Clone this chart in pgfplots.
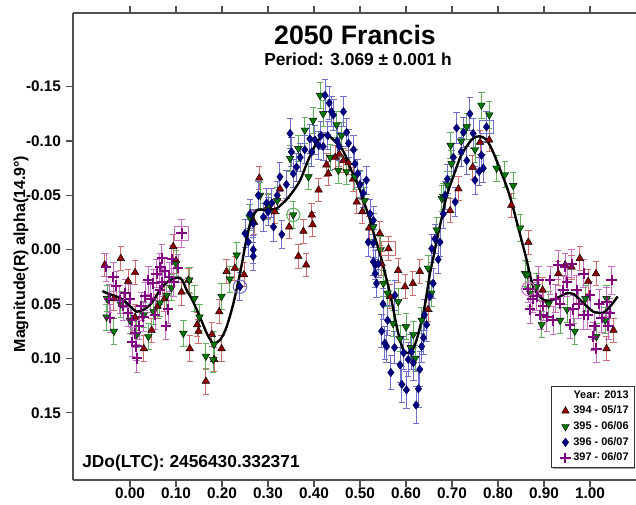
\documentclass[border=0pt]{standalone}
\usepackage{fontspec}
\setmainfont{Liberation Sans}
\usepackage{pgfplots}
\usepackage{pgfplotstable}
\pgfplotsset{compat=1.18}
\usetikzlibrary{shadows}
\definecolor{cred}{RGB}{140,0,0}
\definecolor{credbar}{RGB}{205,110,110}
\definecolor{cgreen}{RGB}{0,120,0}
\definecolor{cgreenbar}{RGB}{95,175,95}
\definecolor{cblue}{RGB}{0,0,130}
\definecolor{cbluebar}{RGB}{110,110,205}
\definecolor{cpurple}{RGB}{128,0,128}
\definecolor{cpurplebar}{RGB}{195,110,195}
\definecolor{axgray}{RGB}{80,80,80}

\pgfplotstableread{
x y e
-0.055 0.014 0.011
-0.035 0.045 0.011
-0.020 0.008 0.011
-0.004 0.029 0.011
0.011 0.021 0.011
0.011 0.062 0.012
0.030 0.091 0.012
0.047 0.074 0.011
0.060 0.052 0.011
0.075 0.045 0.012
0.094 -0.003 0.011
0.100 0.010 0.012
0.112 0.039 0.012
0.127 0.028 0.011
0.130 0.091 0.012
0.146 0.069 0.011
0.149 0.075 0.011
0.165 0.121 0.012
0.178 0.078 0.011
0.183 0.101 0.011
0.194 0.057 0.011
0.199 0.091 0.012
0.210 0.020 0.011
0.228 0.017 0.011
0.248 0.023 0.011
0.270 -0.025 0.011
0.281 -0.066 0.011
0.300 -0.040 0.011
0.315 -0.035 0.011
0.326 -0.056 0.011
0.346 -0.021 0.011
0.366 0.006 0.011
0.377 -0.017 0.011
0.383 0.014 0.011
0.395 -0.032 0.011
0.397 -0.023 0.011
0.410 -0.055 0.011
0.427 -0.078 0.011
0.431 -0.070 0.011
0.446 -0.085 0.011
0.455 -0.088 0.011
0.464 -0.082 0.011
0.475 -0.080 0.011
0.485 -0.065 0.011
0.493 -0.044 0.011
0.505 -0.035 0.011
0.520 -0.020 0.011
0.543 -0.015 0.011
0.547 0.013 0.011
0.562 -0.001 0.011
0.565 0.043 0.011
0.583 0.019 0.011
0.598 0.034 0.011
0.615 0.031 0.011
0.630 0.020 0.011
0.648 0.055 0.011
0.696 -0.036 0.011
0.714 -0.056 0.011
0.745 -0.076 0.011
0.761 -0.099 0.011
0.781 -0.101 0.011
0.829 -0.041 0.011
0.866 -0.007 0.011
0.897 0.037 0.011
0.931 0.022 0.011
0.946 0.014 0.011
0.960 0.016 0.011
0.978 0.008 0.011
0.996 0.029 0.011
1.013 0.022 0.011
1.036 0.091 0.011
1.051 0.074 0.011
}\tred

\pgfplotstableread{
x y e
-0.051 0.062 0.012
-0.050 0.045 0.012
-0.035 0.075 0.012
-0.020 0.050 0.012
0.000 0.065 0.012
0.015 0.078 0.012
0.030 0.060 0.012
0.040 0.080 0.012
0.051 0.057 0.012
0.065 0.049 0.012
0.080 0.042 0.012
0.090 0.035 0.012
0.100 0.013 0.012
0.116 0.077 0.012
0.129 0.028 0.012
0.140 0.045 0.012
0.151 0.062 0.012
0.165 0.098 0.012
0.181 0.101 0.012
0.183 0.087 0.012
0.199 0.043 0.012
0.217 0.027 0.012
0.232 0.005 0.012
0.260 -0.030 0.012
0.283 -0.050 0.012
0.300 -0.040 0.012
0.320 -0.045 0.012
0.348 -0.084 0.012
0.355 -0.032 0.012
0.366 -0.093 0.012
0.380 -0.110 0.012
0.388 -0.067 0.012
0.398 -0.119 0.012
0.413 -0.142 0.012
0.420 -0.125 0.012
0.435 -0.085 0.012
0.449 -0.115 0.012
0.453 -0.073 0.012
0.460 -0.105 0.012
0.471 -0.072 0.012
0.489 -0.067 0.012
0.500 -0.060 0.012
0.510 -0.045 0.012
0.529 -0.021 0.012
0.545 0.000 0.012
0.551 0.031 0.012
0.560 0.040 0.012
0.572 0.068 0.012
0.583 0.048 0.012
0.587 0.082 0.012
0.600 0.071 0.012
0.610 0.090 0.012
0.616 0.078 0.012
0.620 0.100 0.012
0.634 0.065 0.012
0.648 0.017 0.012
0.655 0.040 0.012
0.667 -0.018 0.012
0.678 -0.047 0.012
0.681 -0.049 0.012
0.690 -0.060 0.012
0.697 -0.096 0.012
0.699 -0.079 0.012
0.720 -0.100 0.012
0.732 -0.113 0.012
0.750 -0.092 0.012
0.764 -0.133 0.012
0.781 -0.124 0.012
0.797 -0.075 0.012
0.815 -0.069 0.012
0.833 -0.059 0.012
0.848 -0.020 0.012
0.859 0.022 0.012
0.864 0.023 0.012
0.870 0.040 0.012
0.884 0.034 0.012
0.895 0.069 0.012
0.910 0.050 0.012
0.935 0.065 0.012
0.950 0.055 0.012
0.967 0.075 0.012
0.990 0.045 0.012
1.014 0.080 0.012
1.033 0.065 0.012
1.036 0.045 0.012
}\tgreen

\pgfplotstableread{
x y e
0.239 0.034 0.013
0.250 -0.015 0.013
0.257 -0.007 0.013
0.261 -0.033 0.013
0.268 -0.024 0.013
0.268 0.000 0.013
0.268 0.006 0.013
0.279 -0.050 0.013
0.290 -0.030 0.013
0.297 -0.043 0.013
0.300 -0.035 0.013
0.308 -0.043 0.013
0.312 -0.021 0.013
0.320 -0.050 0.013
0.326 -0.067 0.013
0.330 -0.014 0.013
0.340 -0.060 0.013
0.348 -0.107 0.014
0.351 -0.090 0.013
0.355 -0.070 0.013
0.362 -0.076 0.013
0.370 -0.085 0.013
0.380 -0.092 0.013
0.391 -0.102 0.013
0.395 -0.090 0.013
0.402 -0.101 0.013
0.410 -0.096 0.013
0.415 -0.105 0.013
0.420 -0.095 0.013
0.424 -0.142 0.015
0.430 -0.105 0.013
0.433 -0.135 0.015
0.438 -0.127 0.014
0.442 -0.124 0.014
0.450 -0.100 0.013
0.455 -0.095 0.013
0.464 -0.127 0.014
0.471 -0.108 0.013
0.475 -0.098 0.013
0.486 -0.092 0.013
0.489 -0.079 0.013
0.495 -0.070 0.013
0.500 -0.060 0.013
0.507 -0.052 0.013
0.514 -0.064 0.013
0.518 -0.007 0.013
0.522 -0.033 0.013
0.529 0.011 0.013
0.529 -0.027 0.013
0.529 -0.006 0.013
0.533 0.014 0.013
0.533 0.022 0.013
0.536 0.031 0.013
0.540 0.013 0.013
0.547 0.075 0.015
0.550 0.050 0.014
0.554 0.086 0.015
0.558 0.089 0.015
0.560 0.065 0.014
0.567 0.113 0.016
0.575 0.090 0.015
0.576 0.042 0.014
0.587 0.106 0.016
0.591 0.124 0.017
0.595 0.095 0.015
0.601 0.129 0.017
0.605 0.101 0.016
0.612 0.094 0.016
0.616 0.104 0.016
0.622 0.143 0.017
0.627 0.128 0.017
0.630 0.110 0.016
0.634 0.089 0.015
0.638 0.081 0.015
0.640 0.060 0.014
0.645 0.069 0.015
0.652 0.043 0.014
0.656 -0.001 0.013
0.659 0.031 0.014
0.663 -0.010 0.013
0.670 0.009 0.013
0.674 -0.007 0.013
0.681 -0.033 0.013
0.685 -0.050 0.013
0.690 -0.065 0.013
0.703 -0.085 0.013
0.707 -0.044 0.013
0.710 -0.112 0.014
0.720 -0.090 0.013
0.725 -0.108 0.014
0.732 -0.082 0.013
0.739 -0.125 0.015
0.746 -0.107 0.014
0.750 -0.064 0.013
0.759 -0.072 0.013
0.764 -0.087 0.013
0.768 -0.075 0.013
0.775 -0.113 0.014
}\tblue

\pgfplotstableread{
x y e
-0.052 0.016 0.013
-0.045 0.045 0.013
-0.043 0.063 0.013
-0.036 0.025 0.013
-0.030 0.033 0.013
-0.022 0.046 0.013
-0.015 0.052 0.013
-0.010 0.040 0.013
-0.004 0.058 0.013
0.000 0.045 0.013
0.004 0.065 0.013
0.005 0.085 0.013
0.011 0.077 0.013
0.014 0.089 0.013
0.015 0.100 0.013
0.020 0.070 0.013
0.025 0.052 0.013
0.029 0.062 0.013
0.033 0.043 0.013
0.040 0.028 0.013
0.045 0.045 0.013
0.051 0.031 0.013
0.055 0.060 0.013
0.058 0.022 0.013
0.065 0.016 0.013
0.065 0.037 0.013
0.069 0.008 0.013
0.070 0.030 0.013
0.076 0.020 0.013
0.078 0.070 0.013
0.083 0.055 0.013
0.085 0.025 0.013
0.091 0.009 0.013
0.095 0.030 0.013
0.105 0.017 0.013
0.112 -0.015 0.013
0.866 0.036 0.013
0.870 0.055 0.013
0.875 0.045 0.013
0.884 0.043 0.013
0.888 0.028 0.013
0.892 0.060 0.013
0.898 0.052 0.013
0.906 0.062 0.013
0.913 0.028 0.013
0.920 0.065 0.013
0.925 0.045 0.013
0.931 0.014 0.013
0.935 0.050 0.013
0.942 0.037 0.013
0.946 0.016 0.013
0.950 0.030 0.013
0.957 0.069 0.013
0.960 0.013 0.013
0.964 0.055 0.013
0.971 0.037 0.013
0.975 0.050 0.013
0.986 0.022 0.013
0.986 0.060 0.013
0.995 0.060 0.013
1.000 0.042 0.013
1.007 0.080 0.013
1.010 0.070 0.013
1.014 0.091 0.013
1.020 0.050 0.013
1.025 0.063 0.013
1.036 0.048 0.013
1.040 0.070 0.013
1.043 0.058 0.013
1.047 0.028 0.013
}\tpurple

\pgfplotstableread{
x y
-0.06 0.038
-0.05 0.040
-0.03 0.043
-0.015 0.046
0.00 0.052
0.015 0.057
0.03 0.055
0.043 0.051
0.055 0.044
0.065 0.037
0.075 0.032
0.087 0.028
0.10 0.026
0.109 0.026
0.116 0.030
0.123 0.037
0.134 0.045
0.145 0.055
0.156 0.066
0.167 0.077
0.175 0.083
0.181 0.086
0.190 0.085
0.196 0.083
0.203 0.078
0.210 0.071
0.218 0.060
0.225 0.049
0.232 0.036
0.239 0.022
0.245 0.009
0.25 -0.003
0.255 -0.013
0.261 -0.024
0.268 -0.031
0.275 -0.036
0.286 -0.037
0.297 -0.036
0.308 -0.037
0.319 -0.038
0.330 -0.042
0.34 -0.046
0.355 -0.054
0.37 -0.064
0.385 -0.080
0.40 -0.094
0.41 -0.101
0.42 -0.105
0.428 -0.106
0.435 -0.104
0.445 -0.100
0.457 -0.095
0.468 -0.087
0.478 -0.076
0.489 -0.066
0.50 -0.055
0.511 -0.041
0.522 -0.027
0.532 -0.012
0.543 0.003
0.554 0.021
0.565 0.040
0.573 0.056
0.58 0.071
0.587 0.083
0.594 0.092
0.602 0.095
0.609 0.095
0.616 0.091
0.623 0.083
0.63 0.072
0.638 0.058
0.645 0.041
0.652 0.022
0.66 0.006
0.667 -0.009
0.678 -0.030
0.688 -0.049
0.70 -0.064
0.71 -0.076
0.72 -0.087
0.732 -0.095
0.742 -0.101
0.753 -0.104
0.764 -0.104
0.775 -0.101
0.786 -0.093
0.797 -0.082
0.808 -0.070
0.819 -0.058
0.83 -0.043
0.84 -0.027
0.851 -0.009
0.862 0.009
0.87 0.024
0.877 0.034
0.888 0.042
0.899 0.046
0.91 0.047
0.92 0.046
0.935 0.043
0.95 0.040
0.965 0.041
0.978 0.046
0.993 0.052
1.007 0.057
1.018 0.058
1.029 0.058
1.04 0.054
1.05 0.049
1.06 0.043
}\tfit

\begin{document}
\begin{tikzpicture}
\useasboundingbox (0,0) rectangle (477pt,378pt);
\begin{axis}[
  at={(54.75pt,18pt)}, anchor=south west,
  scale only axis, width=422.25pt, height=350.25pt,
  xmin=-0.1239, xmax=1.1, ymin=-0.2178, ymax=0.2119,
  y dir=reverse,
  axis x line*=box, axis y line*=left,
  axis line style={draw=axgray, line width=1.1pt},
  xtick={0,0.1,0.2,0.3,0.4,0.5,0.6,0.7,0.8,0.9,1.0},
  xticklabels={0.00,0.10,0.20,0.30,0.40,0.50,0.60,0.70,0.80,0.90,1.00},
  ytick={-0.15,-0.1,-0.05,0,0.05,0.1,0.15},
  yticklabels={-0.15,-0.10,-0.05,0.00,0.05,0.10,0.15},
  xtick align=outside, ytick align=outside,
  major tick length=5.5pt,
  tick style={draw=axgray, line width=0.8pt},
  minor tick num=0,
  /pgf/number format/assume math mode=true,
  tick label style={font=\bfseries\fontsize{11.5}{13}\selectfont, text=black},
  xticklabel style={yshift=3pt},
  legend cell align=right,
  legend style={at={(1,0)}, anchor=south east, xshift=-1.2pt, yshift=9pt,
    font=\bfseries\fontsize{8.2}{9.5}\selectfont, draw=black!80, line width=0.6pt,
    fill=white, inner xsep=2pt, inner ysep=1.5pt, row sep=0.3pt,
    drop shadow={shadow xshift=1pt, shadow yshift=-1pt, fill=black!75},
    /tikz/every even column/.append style={column sep=1pt}},
]
\addlegendimage{empty legend}
\addlegendentry{Year: 2013}

\addplot[only marks, mark=triangle*, mark size=3.3pt,
  mark options={fill=cred, draw=black, line width=0.3pt},
  error bars/.cd, y dir=both, y explicit,
  error bar style={color=credbar, line width=0.7pt},
  error mark options={color=credbar, line width=0.7pt, mark size=2.4pt, rotate=90}]
  table[x=x, y=y, y error=e] {\tred};
\addlegendentry{394 - 05/17}

\addplot[only marks, mark=triangle*, mark size=3.3pt,
  mark options={fill=cgreen, draw=black, line width=0.3pt, rotate=180},
  error bars/.cd, y dir=both, y explicit,
  error bar style={color=cgreenbar, line width=0.7pt},
  error mark options={color=cgreenbar, line width=0.7pt, mark size=2.4pt, rotate=90}]
  table[x=x, y=y, y error=e] {\tgreen};
\addlegendentry{395 - 06/06}

\addplot[only marks, mark=diamond*, mark size=3.2pt,
  mark options={fill=cblue, draw=cblue!70!black, line width=0.3pt},
  error bars/.cd, y dir=both, y explicit,
  error bar style={color=cbluebar, line width=0.7pt},
  error mark options={color=cbluebar, line width=0.7pt, mark size=2.4pt, rotate=90}]
  table[x=x, y=y, y error=e] {\tblue};
\addlegendentry{396 - 06/07}

\addplot[only marks, mark=+, mark size=3.9pt,
  mark options={draw=cpurple, line width=1.5pt},
  error bars/.cd, y dir=both, y explicit,
  error bar style={color=cpurplebar, line width=0.7pt},
  error mark options={color=cpurplebar, line width=0.7pt, mark size=2.4pt, rotate=90}]
  table[x=x, y=y, y error=e] {\tpurple};
\addlegendentry{397 - 06/07}

\addplot[forget plot, only marks, mark=square, mark size=5pt, mark options={draw=cpurplebar, line width=0.8pt}]
  coordinates {(0.112,-0.015)};
\addplot[forget plot, only marks, mark=square, mark size=5pt, mark options={draw=credbar, line width=0.8pt}]
  coordinates {(0.562,-0.001)};
\addplot[forget plot, only marks, mark=square, mark size=5pt, mark options={draw=cbluebar, line width=0.8pt}]
  coordinates {(0.775,-0.113)};
\addplot[forget plot, only marks, mark=o, mark size=5pt, mark options={draw=cbluebar, line width=0.8pt}]
  coordinates {(0.239,0.034)};
\addplot[forget plot, only marks, mark=o, mark size=5pt, mark options={draw=cgreenbar, line width=0.8pt}]
  coordinates {(0.355,-0.032)};
\addplot[forget plot, only marks, mark=o, mark size=5pt, mark options={draw=cpurplebar, line width=0.8pt}]
  coordinates {(0.866,0.036)};

\addplot[forget plot, no markers, smooth, black, line width=1.8pt] table[x=x, y=y] {\tfit};
\end{axis}
\node[font=\bfseries\fontsize{20}{24}\selectfont] at (266.25pt,351.75pt) {2050 Francis};
\node[font=\bfseries\fontsize{13}{15}\selectfont] at (268.5pt,333.75pt) {Period: 3.069 ± 0.001 h};
\node[font=\bfseries\fontsize{13}{15}\selectfont, anchor=west, inner sep=0pt] at (61.5pt,30.75pt) {JDo(LTC): 2456430.332371};
\node[font=\bfseries\fontsize{12}{14}\selectfont, rotate=90] at (15.75pt,187.5pt) {Magnitude(R) alpha(14.9°)};
\end{tikzpicture}
\end{document}
